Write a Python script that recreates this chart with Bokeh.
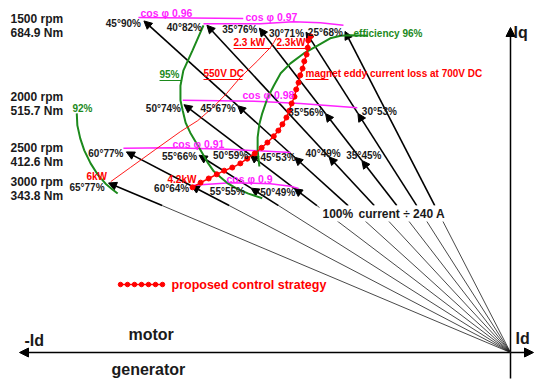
import math
from bokeh.plotting import figure
from bokeh.models import ColumnDataSource, Range1d, Arrow, NormalHead
from bokeh.core.properties import value
from bokeh.embed import file_html
from bokeh.resources import INLINE

# ---------------------------------------------------------------------------
# Operating points: current angle (deg, measured from the q axis towards -d)
# and current magnitude (% of 240 A), one group per speed / torque level
# ---------------------------------------------------------------------------
angles_1500 = [45, 40, 35, 30, 25]
currents_1500 = [90, 82, 76, 71, 68]
angles_2000 = [50, 45, 35, 30]
currents_2000 = [74, 67, 56, 53]
angles_2500 = [60, 55, 50, 45, 40, 35]
currents_2500 = [77, 66, 59, 53, 49, 45]
angles_3000 = [65, 60, 55, 50]
currents_3000 = [77, 64, 55, 49]

speed_names = ["1500 rpm", "2000 rpm", "2500 rpm", "3000 rpm"]
torque_names = ["684.9 Nm", "515.7 Nm", "412.6 Nm", "343.8 Nm"]

# Efficiency contours (Id %, Iq %)
eff96_id = [-43.6, -43.9, -43.9, -43.6, -43.1, -42.2, -41.1, -39.9, -38.2, -35.9, -33.5, -31.3, -29.5, -27.8, -24.8]
eff96_iq = [35.7, 38.8, 41.3, 43.8, 45.9, 48.8, 51.2, 53.6, 55.5, 57.4, 58.9, 60.3, 60.8, 60.9, 60.8]
eff95_id = [-53.3, -55.2, -56.8, -57.3, -57.3, -56.9, -56.4, -55.6, -54.7, -53.8, -52.6, -51.6, -50.3, -49.0, -47.6, -45.5, -43.1]
eff95_iq = [62.8, 58.0, 54.1, 51.2, 48.4, 46.4, 44.1, 42.2, 40.5, 38.8, 36.5, 34.9, 33.6, 32.4, 31.5, 30.5, 29.6]
eff92_id = [-75.3, -75.2, -74.7, -74.0, -72.9, -71.7, -70.3, -69.1, -68.2]
eff92_iq = [45.9, 43.6, 41.1, 38.8, 36.3, 34.2, 32.4, 31.3, 30.5]

# Power-factor lines (Id %, Iq %)
pf096_id = [-64.6, -46.4]
pf096_iq = [64.3, 64.1]
pf097_id = [-53.3, -43.4, -37.7, -33.0, -29.0]
pf097_iq = [63.1, 63.1, 63.5, 63.3, 62.8]
pf098_id = [-56.9, -43.4, -36.5, -26.6]
pf098_iq = [48.4, 48.2, 47.8, 47.0]
pf091_id = [-67.2, -59.0, -49.1, -38.2]
pf091_iq = [39.2, 39.3, 39.0, 38.4]
pf090_id = [-55.0, -48.6, -41.7, -38.2, -36.8]
pf090_iq = [32.1, 32.6, 32.4, 31.9, 31.5]

# Magnet eddy current loss at 550 V DC (6 kW ... 2.3 kW)
dc550_id = [-69.4, -66.0, -61.6, -57.3, -54.3, -51.7, -49.3, -46.9, -45.3, -43.9, -42.7, -41.7, -41.1, -40.6]
dc550_iq = [32.8, 35.5, 39.0, 42.4, 44.5, 47.0, 49.7, 52.8, 54.5, 56.0, 57.4, 58.5, 59.5, 60.5]

# Proposed control strategy (Id %, Iq %)
strategy_id = [-55.2, -53.8, -52.4, -51.0, -49.7, -48.3, -46.9, -45.7, -44.4, -43.2, -42.2, -41.1, -40.3,
               -39.6, -38.9, -38.4, -38.0, -37.5, -37.2, -36.8, -36.5, -36.1, -35.8, -35.4, -35.2, -35.1, -34.7]
strategy_iq = [31.7, 32.6, 33.4, 34.2, 34.9, 35.5, 36.3, 37.2, 38.2, 39.3, 40.3, 41.5, 42.6,
               43.8, 45.1, 46.4, 47.8, 49.1, 50.5, 51.8, 53.2, 54.5, 55.9, 57.2, 58.5, 59.9, 60.7]

# ---------------------------------------------------------------------------
# Canvas geometry: origin of the Id/Iq plane and pixels per percent
# ---------------------------------------------------------------------------
W, H = 536, 381
OX, OY = 510.0, 352.0
KX, KY = 5.76, 5.21
FONT = "Liberation Sans"
GREEN = "#1c8a1c"
MAGENTA = "#ff22ff"
RED = "#ff0000"
INK = "#1a1a1a"
THICK_FROM_IQ = 28.2   # vectors are drawn heavy above this Iq level


def sx(px):
    return (px - OX) / KX


def sy(py):
    return (OY - py) / KY


p = figure(width=W, height=H, output_backend="svg", toolbar_location=None,
           x_range=Range1d(sx(0), sx(W)), y_range=Range1d(sy(H), sy(0)),
           x_axis_location=None, y_axis_location=None, min_border=0,
           title=None)
p.grid.visible = False
p.outline_line_color = None
p.background_fill_color = "white"
p.border_fill_color = "white"


def add_text(items, color, size, align="left", style="bold"):
    src = ColumnDataSource(dict(x=[sx(i[1]) for i in items],
                                y=[sy(i[2]) for i in items],
                                t=[i[0] for i in items]))
    p.text(x="x", y="y", text="t", source=src, text_color=color,
           text_font_size=size, text_font=value(FONT), text_font_style=style,
           text_align=align, text_baseline="middle")


def underline(x0, x1, y, color, width=1.0):
    p.segment(x0=[sx(x0)], y0=[sy(y)], x1=[sx(x1)], y1=[sy(y)],
              line_color=color, line_width=width)


# ---- power factor lines
for xs, ys in [(pf096_id, pf096_iq), (pf097_id, pf097_iq), (pf098_id, pf098_iq),
               (pf091_id, pf091_iq), (pf090_id, pf090_iq)]:
    p.line(xs, ys, line_color=MAGENTA, line_width=1.5)

# ---- efficiency contours
for xs, ys in [(eff96_id, eff96_iq), (eff95_id, eff95_iq), (eff92_id, eff92_iq)]:
    p.line(xs, ys, line_color=GREEN, line_width=2)

# ---- 550 V DC loss line
p.line(dc550_id, dc550_iq, line_color=RED, line_width=0.9)

# ---- current vectors
point_sets = [(angles_1500, currents_1500), (angles_2000, currents_2000),
              (angles_2500, currents_2500), (angles_3000, currents_3000)]
rays = {}
for angs, curs in point_sets:
    for a, c in zip(angs, curs):
        rays.setdefault(a, []).append(c)

thin = dict(x0=[], y0=[], x1=[], y1=[])
heavy = dict(x0=[], y0=[], x1=[], y1=[])
for a, curs in sorted(rays.items()):
    t = math.radians(a)
    s, c = math.sin(t), math.cos(t)
    start = THICK_FROM_IQ / c
    thin["x0"].append(0.0)
    thin["y0"].append(0.0)
    thin["x1"].append(-start * s)
    thin["y1"].append(start * c)
    prev = start
    for cur in sorted(curs):
        heavy["x0"].append(-prev * s)
        heavy["y0"].append(prev * c)
        heavy["x1"].append(-cur * s)
        heavy["y1"].append(cur * c)
        prev = cur

p.segment(x0="x0", y0="y0", x1="x1", y1="y1", source=ColumnDataSource(thin),
          line_color=INK, line_width=0.8)
p.add_layout(Arrow(end=NormalHead(size=8, fill_color="black", line_color="black", line_width=1),
                   x_start="x0", y_start="y0", x_end="x1", y_end="y1",
                   source=ColumnDataSource(heavy), line_color="black",
                   line_width=1.6, level="underlay"))

# ---- axes
p.add_layout(Arrow(start=NormalHead(size=9, fill_color="black", line_color="black"),
                   end=NormalHead(size=9, fill_color="black", line_color="black"),
                   x_start=sx(19), y_start=0, x_end=sx(533), y_end=0,
                   line_color="black", line_width=1.5, level="underlay"))
p.add_layout(Arrow(end=NormalHead(size=9, fill_color="black", line_color="black"),
                   x_start=0, y_start=sy(378), x_end=0, y_end=sy(27),
                   line_color="black", line_width=1.5, level="underlay"))

# ---- white box under the current caption
p.quad(left=[sx(319)], right=[sx(451)], top=[sy(205)], bottom=[sy(221)],
       fill_color="white", line_color=None)

# ---- proposed control strategy
p.line(strategy_id, strategy_iq, line_color=RED, line_width=1.5)
p.scatter(strategy_id, strategy_iq, size=5, marker="circle", fill_color=RED, line_color=RED)

# legend sample
leg_x = [sx(120 + 7 * i) for i in range(7)]
leg_y = [sy(284)] * 7
p.line(leg_x, leg_y, line_color=RED, line_width=1.5)
p.scatter(leg_x, leg_y, size=4.5, marker="circle", fill_color=RED, line_color=RED)

# ---- operating point labels
label_align = [["right"] * 5,
               ["right", "right", "right", "left"],
               ["right", "right", "right", "right", "center", "center"],
               ["right"] * 4]
label_dx = [[-3, -5, -2, -2, -2], [-3, -2, -2, 4], [-3, -2, -2, 1, -6, 2], [-4, -2, -6, 1]]
label_dy = [[3, 2, 1, 1, 1], [4, 3, -1, -2], [2, 1, 1, 0, -3, -5], [5, 3, 3, 4]]

groups = {}
for (angs, curs), al, dxs, dys in zip(point_sets, label_align, label_dx, label_dy):
    for a, c, aa, ddx, ddy in zip(angs, curs, al, dxs, dys):
        t = math.radians(a)
        g = groups.setdefault(aa, dict(x=[], y=[], t=[], dx=[], dy=[]))
        g["x"].append(-c * math.sin(t))
        g["y"].append(c * math.cos(t))
        g["t"].append(f"{a}°{c}%")
        g["dx"].append(ddx)
        g["dy"].append(ddy)
for aa, g in groups.items():
    p.text(x="x", y="y", text="t", x_offset="dx", y_offset="dy",
           source=ColumnDataSource(g), text_color=INK, text_font_size="10px",
           text_font=value(FONT), text_font_style="bold",
           text_align=aa, text_baseline="middle")

# ---- speed / torque captions
row_y = [(18, 32), (96, 110), (147, 161), (181, 195)]
caps = []
for sp, tq, (y1, y2) in zip(speed_names, torque_names, row_y):
    caps.append((sp, 10, y1))
    caps.append((tq, 10, y2))
add_text(caps, INK, "12px")

# ---- efficiency captions
add_text([("92%", 72, 108), ("95%", 159, 74), ("efficiency 96%", 353, 33)], GREEN, "10px")
underline(159, 181, 80, GREEN, 1.2)

# ---- power factor captions
add_text([("cos φ 0.96", 140, 12), ("cos φ 0.97", 245, 16), ("cos φ 0.98", 242, 94),
          ("cos φ 0.91", 172, 143), ("cos φ 0.9", 226, 178)], MAGENTA, "10.5px")

# ---- loss captions
add_text([("2.3 kW", 233, 42), ("2.3kW", 276, 42), ("550V DC", 203, 73),
          ("magnet eddy current loss at 700V DC", 305, 73), ("6kW", 86, 176),
          ("4.2kW", 167, 179)], RED, "10px")
underline(233, 270, 48, RED)
underline(276, 308, 48, RED)
underline(203, 242, 79, RED)
underline(305, 328, 79, RED)

add_text([("proposed control strategy", 171, 284)], RED, "12.5px")

# ---- current caption
add_text([("100%", 322, 213), ("current ÷ 240 A", 358, 213)], INK, "12px")

# ---- axis captions
add_text([("motor", 128, 334), ("generator", 111, 369), ("-Id", 24, 340),
          ("Id", 515, 338), ("Iq", 513, 32)], INK, "16px")

open("out.html", "w").write(file_html(p, INLINE))
